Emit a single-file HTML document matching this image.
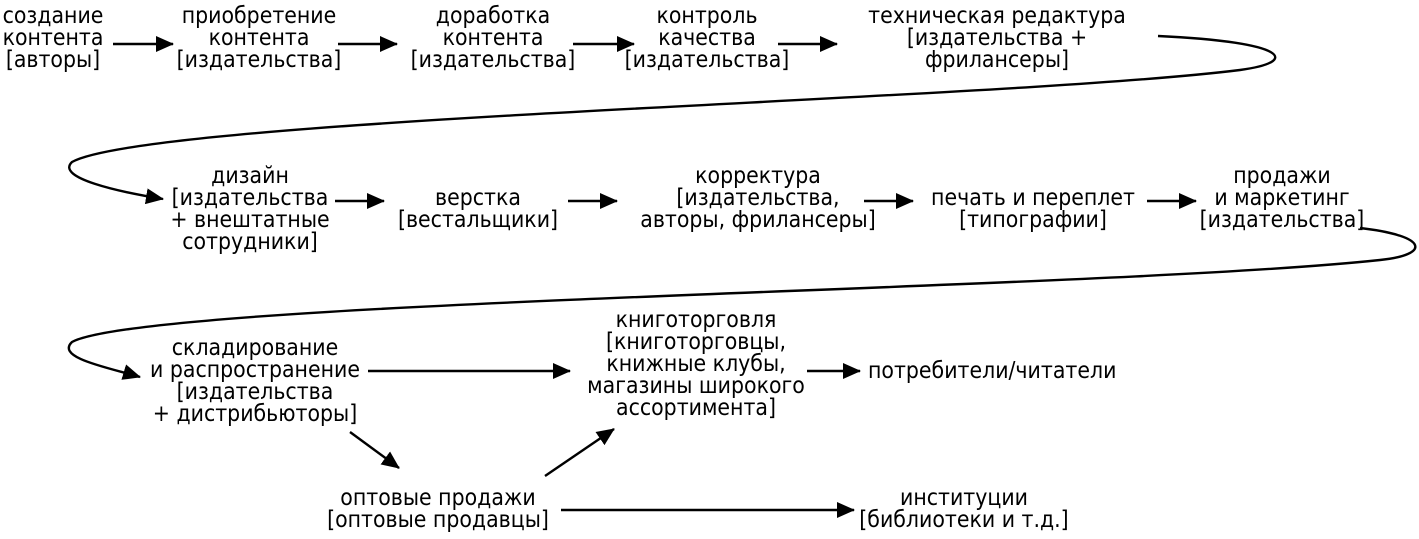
<!DOCTYPE html>
<html><head><meta charset="utf-8"><style>
html,body{margin:0;padding:0;background:#fff;}
svg text{font-family:"Liberation Sans Narrow","DejaVu Sans Condensed","Liberation Sans",sans-serif;font-size:22.8px;fill:#000;text-anchor:middle;}
</style></head><body>
<svg width="1419" height="534" viewBox="0 0 1419 534" xmlns="http://www.w3.org/2000/svg">
<defs>
<marker id="b" markerWidth="18" markerHeight="16" refX="17" refY="8" orient="auto" markerUnits="userSpaceOnUse" viewBox="0 0 18 16"><path d="M0,0 L18,8 L0,16Z" fill="#000"/></marker></defs>
<g stroke="#000" stroke-width="2.4" fill="none" marker-end="url(#b)">
<line x1="113" y1="44" x2="173" y2="44"/>
<line x1="338" y1="44" x2="397" y2="44"/>
<line x1="573" y1="44" x2="634" y2="44"/>
<line x1="778" y1="44" x2="837" y2="44"/>
<path d="M1158,36 C1290,42 1300,62 1240,70 C1000,100 150,118 72,162 C55,178 120,192 163,199"/>
<line x1="335" y1="201" x2="384" y2="201"/>
<line x1="568" y1="201" x2="617" y2="201"/>
<line x1="864" y1="201" x2="913" y2="201"/>
<line x1="1147" y1="201" x2="1196" y2="201"/>
<path d="M1360,228 C1430,236 1430,255 1380,260 C1100,290 150,300 72,342 C55,358 110,368 140,377"/>
<line x1="368" y1="371" x2="570" y2="371"/>
<line x1="807" y1="371" x2="860" y2="371"/>
<line x1="350" y1="432" x2="399" y2="468"/>
<line x1="545" y1="476" x2="614" y2="429"/>
<line x1="561" y1="510" x2="854" y2="510"/>
</g>
<text x="53" y="23">создание</text><text x="53" y="45">контента</text><text x="53" y="67">[авторы]</text>
<text x="259" y="23">приобретение</text><text x="259" y="45">контента</text><text x="259" y="67">[издательства]</text>
<text x="493" y="23">доработка</text><text x="493" y="45">контента</text><text x="493" y="67">[издательства]</text>
<text x="707" y="23">контроль</text><text x="707" y="45">качества</text><text x="707" y="67">[издательства]</text>
<text x="997" y="23">техническая редактура</text><text x="997" y="45">[издательства +</text><text x="997" y="67">фрилансеры]</text>
<text x="250" y="183">дизайн</text><text x="250" y="205">[издательства</text><text x="250" y="227">+ внештатные</text><text x="250" y="249">сотрудники]</text>
<text x="478" y="205">верстка</text><text x="478" y="227">[вестальщики]</text>
<text x="758" y="183">корректура</text><text x="758" y="205">[издательства,</text><text x="758" y="227">авторы, фрилансеры]</text>
<text x="1033" y="205">печать и переплет</text><text x="1033" y="227">[типографии]</text>
<text x="1282" y="183">продажи</text><text x="1282" y="205">и маркетинг</text><text x="1282" y="227">[издательства]</text>
<text x="255" y="355">складирование</text><text x="255" y="377">и распространение</text><text x="255" y="399">[издательства</text><text x="255" y="421">+ дистрибьюторы]</text>
<text x="696" y="327">книготорговля</text><text x="696" y="349">[книготорговцы,</text><text x="696" y="371">книжные клубы,</text><text x="696" y="393">магазины широкого</text><text x="696" y="415">ассортимента]</text>
<text x="868" y="378" style="text-anchor:start">потребители/читатели</text>
<text x="438" y="505">оптовые продажи</text><text x="438" y="527">[оптовые продавцы]</text>
<text x="964" y="505">институции</text><text x="964" y="527">[библиотеки и т.д.]</text>
</svg>
</body></html>
